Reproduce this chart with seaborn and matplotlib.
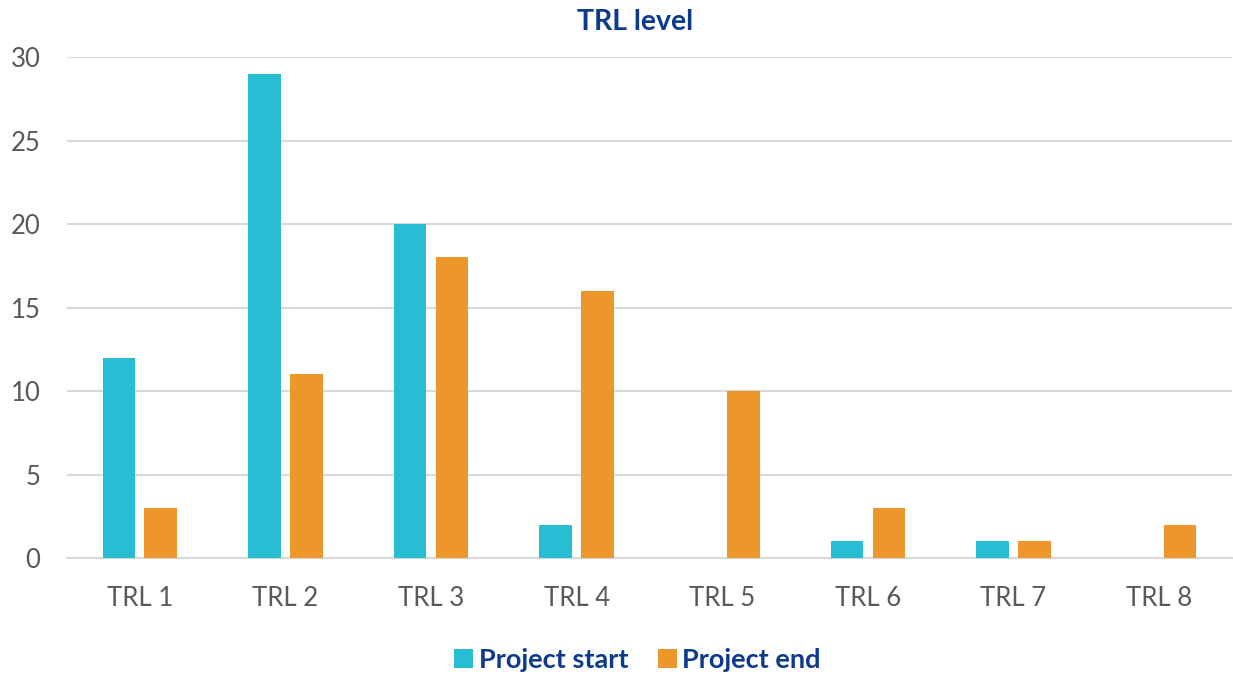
import matplotlib
matplotlib.use("Agg")
import matplotlib.pyplot as plt
import seaborn as sns
import pandas as pd

categories = ["TRL 1", "TRL 2", "TRL 3", "TRL 4", "TRL 5", "TRL 6", "TRL 7", "TRL 8"]
project_start = [12, 29, 20, 2, 0, 1, 1, 0]
project_end = [3, 11, 18, 16, 10, 3, 1, 2]
series_names = ["Project start", "Project end"]
y_ticks = [0, 5, 10, 15, 20, 25, 30]

df = pd.DataFrame({
    "cat": categories * 2,
    "value": project_start + project_end,
    "series": [series_names[0]] * len(categories) + [series_names[1]] * len(categories),
})

sns.set_theme(style="white")
plt.rcParams["font.family"] = ["Lato", "DejaVu Sans"]

fig = plt.figure(figsize=(12.33, 6.74), dpi=100)
ax = fig.add_axes([67 / 1233, 1 - 558 / 674, (1232 - 67) / 1233, (558 - 57) / 674])

palette = {series_names[0]: "#27BDD3", series_names[1]: "#EC962B"}
sns.barplot(data=df, x="cat", y="value", hue="series", palette=palette,
            width=0.574, gap=0.22, linewidth=0, saturation=1, ax=ax, zorder=3)

ax.set_ylim(0, 30)
ax.set_xlim(-0.5, len(categories) - 0.5)
ax.set_yticks(y_ticks)
ax.set_yticklabels([str(t) for t in y_ticks])
ax.yaxis.grid(True, color="#D9D9D9", linewidth=1.5, zorder=0)
ax.set_axisbelow(True)
for s in ["top", "right", "left"]:
    ax.spines[s].set_visible(False)
ax.spines["bottom"].set_color("#D9D9D9")
ax.spines["bottom"].set_linewidth(1.5)
ax.set_xlabel("")
ax.set_ylabel("")
ax.tick_params(axis="both", length=0, labelsize=18.5, labelcolor="#595959")
ax.tick_params(axis="x", pad=20)
ax.tick_params(axis="y", pad=19)

ax.legend_.remove()
handles, labels = ax.get_legend_handles_labels()
leg = fig.legend(handles, labels, loc="center", bbox_to_anchor=(0.517, 0.021), ncol=2,
                 frameon=False, handlelength=0.7, handleheight=0.7, handletextpad=0.2,
                 columnspacing=1.1, prop={"size": 19.5, "weight": "bold"})
for t in leg.get_texts():
    t.set_color("#0D3A8C")

fig.text(0.515, 0.968, "TRL level", ha="center", va="center", fontsize=20.5,
         fontweight="bold", color="#0D3A8C")

fig.savefig("out.png", dpi=100)
